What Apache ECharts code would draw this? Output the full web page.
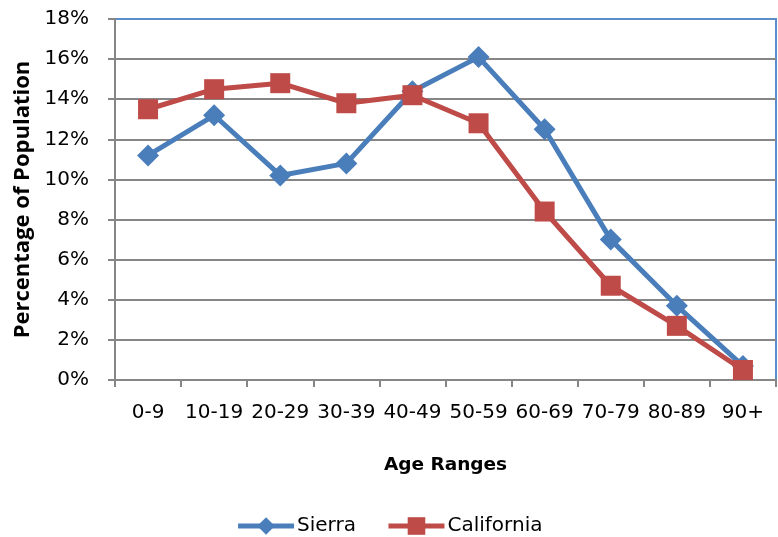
<!DOCTYPE html>
<html><head><meta charset="utf-8">
<script src="https://cdn.jsdelivr.net/npm/echarts@6/dist/echarts.min.js"></script>
<style>html,body{margin:0;padding:0;background:#fff}#c{width:778px;height:537px}</style>
</head><body><div id="c"></div>
<script>
const categories = ['0-9','10-19','20-29','30-39','40-49','50-59','60-69','70-79','80-89','90+'];
const sierra = [11.2, 13.2, 10.2, 10.8, 14.4, 16.1, 12.5, 7.0, 3.7, 0.7];
const california = [13.5, 14.5, 14.8, 13.8, 14.2, 12.8, 8.4, 4.7, 2.7, 0.5];
const yTicks = [0,2,4,6,8,10,12,14,16,18];

const FONT = '"DejaVu Sans","Open Sans",sans-serif';
const chart = echarts.init(document.getElementById('c'), null, {renderer:'canvas'});
chart.setOption({
  animation:false,
  backgroundColor:'#fff',
  grid:{left:115,right:2,top:19,bottom:157,show:true,borderColor:'#5b8dcb',borderWidth:2,
        containLabel:false,outerBoundsMode:'none'},
  legend:{
    bottom:-4,left:'center',itemWidth:56,itemHeight:22,itemGap:30,
    lineStyle:{width:5},
    textStyle:{fontFamily:FONT,fontSize:20,color:'#000',padding:[0,0,0,-2]},
    data:['Sierra','California']
  },
  xAxis:{
    type:'category',data:categories,boundaryGap:true,
    name:'Age Ranges',nameLocation:'middle',nameGap:76,
    nameTextStyle:{fontFamily:FONT,fontSize:18.5,fontWeight:'bold',color:'#000'},
    axisLine:{lineStyle:{color:'#868686',width:2}},
    axisTick:{show:true,length:7,lineStyle:{color:'#868686',width:2},alignWithLabel:false},
    axisLabel:{fontFamily:FONT,fontSize:20,color:'#000',margin:23,interval:0},
    splitLine:{show:false}
  },
  yAxis:{
    type:'value',min:0,max:18,interval:2,
    name:'Percentage of Population',nameLocation:'middle',nameGap:81,nameRotate:90,
    nameTextStyle:{fontFamily:'"Open Sans",sans-serif',fontSize:22,fontWeight:'bold',color:'#000'},
    axisLine:{show:true,lineStyle:{color:'#868686',width:2}},
    axisTick:{show:true,length:7,lineStyle:{color:'#868686',width:2}},
    axisLabel:{fontFamily:FONT,fontSize:20,color:'#000',margin:26,
      formatter:v=> yTicks.includes(v) ? v+'%' : ''},
    splitLine:{show:true,showMaxLine:false,lineStyle:{color:'#868686',width:2}}
  },
  series:[
    {name:'Sierra',type:'line',data:sierra,color:'#4a7ebb',
     lineStyle:{width:5,color:'#4a7ebb'},symbol:'diamond',symbolSize:22,
     itemStyle:{color:'#4a7ebb'},z:3},
    {name:'California',type:'line',data:california,color:'#be4b48',
     lineStyle:{width:5,color:'#be4b48'},symbol:'rect',symbolSize:20,
     itemStyle:{color:'#be4b48'},z:4}
  ]
});
</script></body></html>
